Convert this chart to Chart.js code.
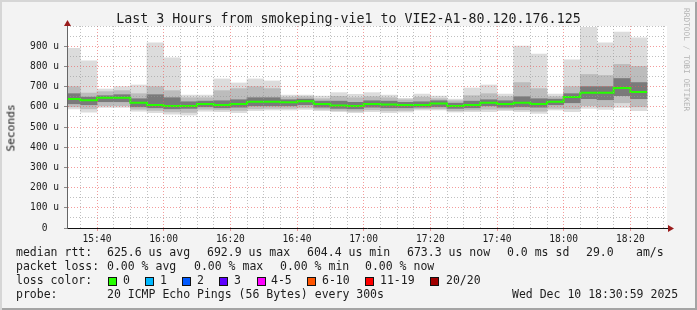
<!DOCTYPE html>
<html lang="en">
<head>
<meta charset="UTF-8">
<title>smokeping-vie1 to VIE2-A1-80.120.176.125</title>
<script src="https://cdn.jsdelivr.net/npm/chart.js"></script>
<style>
    body {
        margin: 0;
        background: #f3f3f3;
    }
    .frame {
        position: relative;
        width: 697px;
        height: 310px;
        background: #f3f3f3;
        box-shadow: inset 2px 2px 0 #d6d6d6, inset -2px -2px 0 #a4a4a4;
        font-family: 'DejaVu Sans Mono', monospace;
        color: #1c1c1c;
        overflow: hidden;
    }
    .frame canvas {
        position: absolute;
        left: 0;
        top: 0;
    }
    .t {
        position: absolute;
        white-space: pre;
        line-height: 1;
        font-size: 11.5px;
    }
    .title {
        font-size: 13.3px;
        left: 0;
        width: 697px;
        text-align: center;
        top: 12px;
    }
    .ylabel {
        font-size: 11.2px;
        color: #111;
        left: 11px;
        top: 128px;
        transform: translate(-50%, -50%) rotate(-90deg);
    }
    .credit {
        font-size: 7.8px;
        color: #b4b4b4;
        writing-mode: vertical-rl;
        left: 682px;
        top: 8px;
    }
    .box {
        position: absolute;
        width: 7px;
        height: 7px;
        border: 1px solid #111;
        top: 277px;
    }
</style>
</head>
<body>
<div class="frame" id="frame">
    <canvas id="chart" width="697" height="310"></canvas>
    <div class="t title">Last 3 Hours from smokeping-vie1 to VIE2-A1-80.120.176.125</div>
    <div class="t ylabel">Seconds</div>
    <div class="t credit">RRDTOOL / TOBI OETIKER</div>

    <div class="t" style="left:16px;top:247px">median rtt:</div>
    <div class="t" style="left:107px;top:247px">625.6 us avg</div>
    <div class="t" style="left:207px;top:247px">692.9 us max</div>
    <div class="t" style="left:307px;top:247px">604.4 us min</div>
    <div class="t" style="left:407px;top:247px">673.3 us now</div>
    <div class="t" style="left:507px;top:247px">0.0 ms sd</div>
    <div class="t" style="left:586px;top:247px">29.0</div>
    <div class="t" style="left:636px;top:247px">am/s</div>

    <div class="t" style="left:16px;top:261px">packet loss:</div>
    <div class="t" style="left:107px;top:261px">0.00 % avg</div>
    <div class="t" style="left:194px;top:261px">0.00 % max</div>
    <div class="t" style="left:280px;top:261px">0.00 % min</div>
    <div class="t" style="left:365px;top:261px">0.00 % now</div>

    <div class="t" style="left:16px;top:275px">loss color:</div>
    <div id="lossLegend"></div>

    <div class="t" style="left:16px;top:289px">probe:</div>
    <div class="t" style="left:107px;top:289px">20 ICMP Echo Pings (56 Bytes) every 300s</div>
    <div class="t" style="left:512px;top:289px">Wed Dec 10 18:30:59 2025</div>
</div>

<script>
    // end of each 5 minute step (rrd step 300s)
    const slotEnd = ['15:35', '15:40', '15:45', '15:50', '15:55',
        '16:00', '16:05', '16:10', '16:15', '16:20', '16:25', '16:30', '16:35', '16:40', '16:45', '16:50', '16:55',
        '17:00', '17:05', '17:10', '17:15', '17:20', '17:25', '17:30', '17:35', '17:40', '17:45', '17:50', '17:55',
        '18:00', '18:05', '18:10', '18:15', '18:20', '18:25'];

    // rtt in microseconds
    const median = [638, 633, 645, 645, 620, 609, 604, 604, 614, 609, 614, 625, 625, 622, 627, 614, 606, 604,
        614, 611, 609, 609, 616, 604, 609, 620, 614, 620, 614, 625, 648, 670, 670, 693, 673];
    const maxRtt = [890, 827, 688, 700, 708, 917, 843, 658, 658, 738, 718, 738, 728, 658, 658, 653, 670, 662,
        670, 658, 642, 663, 653, 638, 693, 708, 663, 901, 861, 663, 832, 993, 917, 970, 942];
    const upper2 = [700, 668, 675, 680, 665, 700, 680, 645, 645, 680, 690, 700, 690, 648, 650, 640, 652, 645,
        650, 645, 635, 648, 640, 630, 655, 665, 650, 720, 690, 650, 700, 760, 755, 810, 800];
    const upper1 = [665, 648, 655, 660, 640, 660, 645, 625, 628, 630, 635, 645, 645, 635, 638, 628, 628, 622,
        630, 628, 622, 625, 630, 618, 628, 635, 630, 650, 640, 638, 665, 700, 700, 740, 720];
    const lower1 = [615, 610, 625, 625, 600, 595, 590, 592, 600, 595, 598, 605, 605, 605, 610, 598, 592, 590,
        598, 595, 595, 598, 600, 592, 595, 605, 598, 600, 598, 610, 620, 640, 635, 655, 640];
    const lower2 = [600, 590, 605, 605, 588, 582, 575, 572, 588, 585, 582, 590, 592, 592, 595, 588, 582, 578,
        585, 580, 582, 590, 590, 580, 584, 588, 588, 585, 578, 592, 590, 605, 600, 620, 600];
    const minRtt = [589, 573, 597, 597, 578, 571, 564, 559, 578, 576, 571, 581, 584, 584, 587, 581, 576, 571,
        576, 571, 574, 584, 584, 574, 576, 576, 581, 576, 567, 584, 576, 592, 587, 597, 581];

    const xTickLabels = ['15:40', '16:00', '16:20', '16:40', '17:00', '17:20', '17:40', '18:00', '18:20'];
    const yTickLabels = ['0  ', '100 u', '200 u', '300 u', '400 u', '500 u', '600 u', '700 u', '800 u', '900 u', ''];

    const lossLabels = ['0', '1', '2', '3', '4-5', '6-10', '11-19', '20/20'];
    const lossColors = ['#26ff00', '#00b8ff', '#0059ff', '#5e00ff', '#ff00ff', '#ff5500', '#ff0000', '#a10000'];

    // graph spans 15:31 .. 18:31, minutes counted from 15:00
    const startMin = 31;
    const endMin = 211;
    const step = 5;

    function toMin(s) {
        const p = s.split(':');
        return (parseInt(p[0]) - 15) * 60 + parseInt(p[1]);
    }

    const ends = slotEnd.map(toMin);

    function band(lo, hi) {
        return ends.map((t, i) => ({ x: t - step / 2, y: [lo[i], hi[i]] }));
    }

    let medianPts = [];
    ends.forEach((t, i) => {
        medianPts.push({ x: t - step, y: median[i] });
        medianPts.push({ x: t, y: median[i] });
    });

    // loss colour legend
    const legend = document.getElementById('lossLegend');
    const boxX = [108, 145, 182, 219, 257, 307, 365, 430];
    const lblX = [123, 160, 197, 234, 271, 322, 380, 446];
    lossLabels.forEach((l, i) => {
        const b = document.createElement('div');
        b.className = 'box';
        b.style.left = boxX[i] + 'px';
        b.style.background = lossColors[i];
        legend.appendChild(b);
        const t = document.createElement('div');
        t.className = 't';
        t.style.left = lblX[i] + 'px';
        t.style.top = '275px';
        t.textContent = l;
        legend.appendChild(t);
    });

    const xMajor = xTickLabels.map(toMin);
    let xMinor = [];
    for (let v = 35; v <= 210; v += step) {
        if (v % 20 !== 0) xMinor.push(v);
    }

    const majorRed = 'rgba(235, 90, 90, 0.6)';
    const minorGray = 'rgba(150, 150, 150, 0.6)';
    const axisFont = { family: 'DejaVu Sans Mono', size: 9.6 };

    const plotArea = {
        id: 'plotArea',
        beforeDraw(chart) {
            const a = chart.chartArea;
            const c = chart.ctx;
            c.save();
            c.fillStyle = '#ffffff';
            c.fillRect(a.left, a.top, a.right - a.left, a.bottom - a.top);
            c.restore();
        },
        afterDraw(chart) {
            const a = chart.chartArea;
            const c = chart.ctx;
            c.save();
            c.fillStyle = '#9a1c1c';
            c.beginPath();
            c.moveTo(a.left + 0.5, a.top - 6);
            c.lineTo(a.left - 3, a.top);
            c.lineTo(a.left + 4, a.top);
            c.closePath();
            c.fill();
            c.beginPath();
            c.moveTo(a.right + 7, a.bottom + 0.5);
            c.lineTo(a.right + 1, a.bottom - 3);
            c.lineTo(a.right + 1, a.bottom + 4);
            c.closePath();
            c.fill();
            c.restore();
        }
    };

    new Chart(document.getElementById('chart'), {
        type: 'bar',
        data: {
            datasets: [
                {
                    type: 'line',
                    label: 'median rtt',
                    data: medianPts,
                    borderColor: '#26ff00',
                    borderWidth: 2,
                    pointRadius: 0,
                    order: 0
                },
                { label: 'smoke 3', data: band(lower1, upper1), backgroundColor: '#7a7a7a', order: 1 },
                { label: 'smoke 2', data: band(lower2, upper2), backgroundColor: '#bcbcbc', order: 2 },
                { label: 'smoke 1', data: band(minRtt, maxRtt), backgroundColor: '#dcdcdc', order: 3 }
            ]
        },
        options: {
            responsive: false,
            animation: false,
            devicePixelRatio: 1,
            layout: { padding: { left: 0, right: 30, top: 26, bottom: 0 } },
            datasets: {
                bar: {
                    grouped: false,
                    barPercentage: 1.0,
                    categoryPercentage: 1.0,
                    borderWidth: 0
                }
            },
            plugins: {
                legend: { display: false },
                title: { display: false },
                tooltip: { enabled: false }
            },
            scales: {
                x: {
                    type: 'linear',
                    min: startMin,
                    max: endMin,
                    offset: false,
                    afterBuildTicks: axis => { axis.ticks = xMajor.map(v => ({ value: v })); },
                    afterFit: s => { s.height = 82; },
                    grid: {
                        offset: false,
                        color: majorRed,
                        z: 1,
                        tickLength: 3,
                        tickColor: majorRed
                    },
                    border: { display: true, color: '#111', z: 2, dash: [1, 2] },
                    ticks: {
                        maxRotation: 0,
                        autoSkip: false,
                        padding: 3,
                        color: '#1c1c1c',
                        font: axisFont,
                        callback: (v, i) => xTickLabels[i]
                    }
                },
                x2: {
                    type: 'linear',
                    position: 'bottom',
                    min: startMin,
                    max: endMin,
                    offset: false,
                    afterBuildTicks: axis => { axis.ticks = xMinor.map(v => ({ value: v })); },
                    afterFit: s => { s.height = 0; },
                    grid: { offset: false, color: minorGray, z: 1, drawTicks: false },
                    border: { display: false, dash: [1, 2] },
                    ticks: { display: false }
                },
                y: {
                    type: 'linear',
                    min: 0,
                    max: 1000,
                    afterFit: s => { s.width = 67; },
                    grid: {
                        color: c => (c.tick && c.tick.value === 1000) ? 'rgba(0,0,0,0)' : majorRed,
                        z: 1,
                        tickLength: 3,
                        tickColor: c => (c.tick && c.tick.value === 1000) ? 'rgba(0,0,0,0)' : '#8a8a8a'
                    },
                    border: { display: true, color: '#666', z: 2, dash: [1, 2] },
                    ticks: {
                        stepSize: 100,
                        padding: 5,
                        color: '#1c1c1c',
                        font: axisFont,
                        callback: (v, i) => yTickLabels[i]
                    }
                },
                y2: {
                    type: 'linear',
                    position: 'left',
                    min: 0,
                    max: 1000,
                    afterFit: s => { s.width = 0; },
                    grid: {
                        color: c => (c.tick && c.tick.value % 100 === 0 && c.tick.value !== 1000) ? 'rgba(0,0,0,0)' : minorGray,
                        z: 1,
                        drawTicks: false
                    },
                    border: { display: false, dash: [1, 2] },
                    ticks: { display: false, stepSize: 50 }
                }
            }
        },
        plugins: [plotArea]
    });
</script>
</body>
</html>
